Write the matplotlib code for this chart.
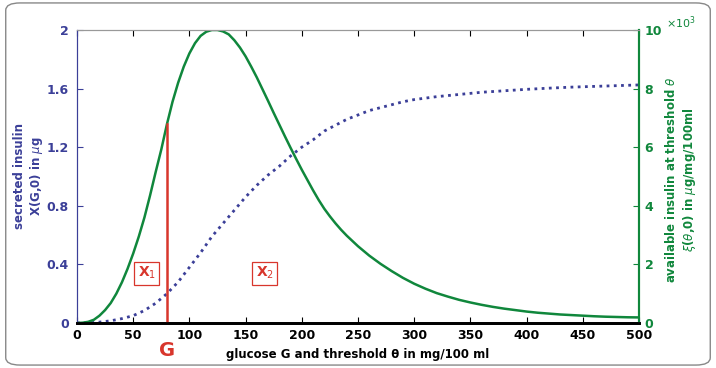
import matplotlib.pyplot as plt
from matplotlib.patches import FancyBboxPatch

# glucose grid and read-off values
g_blue = [0, 10, 20, 30, 40, 50, 60, 70, 80, 90, 100, 110, 120, 130, 140, 150, 160, 170, 180, 190,
          200, 210, 220, 230, 240, 250, 260, 270, 280, 290, 300, 320, 340, 360, 380, 400, 420, 440,
          460, 480, 500]
secreted = [0, 0.001, 0.006, 0.015, 0.03, 0.05, 0.085, 0.135, 0.2, 0.28, 0.38, 0.48, 0.59, 0.68,
            0.77, 0.86, 0.94, 1.01, 1.07, 1.14, 1.2, 1.25, 1.31, 1.35, 1.39, 1.42, 1.45, 1.47, 1.49,
            1.51, 1.525, 1.545, 1.56, 1.575, 1.585, 1.595, 1.603, 1.61, 1.615, 1.62, 1.625]

g_green = [0, 5, 10, 15, 20, 25, 30, 35, 40, 45, 50, 55, 60, 65, 70, 75, 80, 85, 90, 95,
           100, 105, 110, 115, 120, 125, 130, 135, 140, 145, 150, 155, 160, 165, 170, 175, 180, 185,
           190, 195, 200, 205, 210, 215, 220, 225, 230, 235, 240, 245, 250, 260, 270, 280, 290,
           300, 310, 320, 330, 340, 350, 360, 370, 380, 390, 400, 410, 420, 430, 440, 450, 460,
           470, 480, 490, 500]
available = [0, 0.01, 0.04, 0.11, 0.25, 0.44, 0.68, 1.0, 1.39, 1.85, 2.37, 2.95, 3.6, 4.35, 5.15,
             5.92, 6.78, 7.55, 8.2, 8.75, 9.2, 9.55, 9.8, 9.94, 10.0, 10.0, 9.95, 9.85, 9.65, 9.4,
             9.1, 8.75, 8.38, 7.98, 7.58, 7.17, 6.77, 6.37, 5.98, 5.6, 5.23, 4.88, 4.53, 4.2, 3.9,
             3.64, 3.4, 3.18, 2.98, 2.8, 2.62, 2.3, 2.02, 1.77, 1.54, 1.34, 1.17, 1.02, 0.9, 0.79,
             0.7, 0.62, 0.55, 0.49, 0.44, 0.39, 0.35, 0.32, 0.29, 0.27, 0.25, 0.23, 0.215, 0.205,
             0.195, 0.19]

G = 80
G_height = 6.78
x1_pos = (62, 0.34)
x2_pos = (167, 0.34)

blue = '#3b3f98'
green = '#10873c'
red = '#d8362c'

fig = plt.figure(figsize=(7.16, 3.68), dpi=100)
fig.patches.append(FancyBboxPatch((0.008, 0.008), 0.984, 0.984, boxstyle='round,pad=0,rounding_size=0.02',
                                  transform=fig.transFigure, fill=False, edgecolor='#888888', lw=1))
ax = fig.add_axes([0.1075, 0.1223, 0.785, 0.7962])
ax2 = ax.twinx()

ax.plot(g_blue, secreted, color=blue, lw=2, linestyle=(0, (1, 1.6)))
ax2.plot(g_green, available, color=green, lw=1.8)
ax2.plot([G, G], [0, G_height], color=red, lw=1.8)

ax.set_xlim(0, 500)
ax.set_ylim(0, 2)
ax2.set_ylim(0, 10)
ax.set_xticks(range(0, 501, 50))
ax.set_yticks([0, 0.4, 0.8, 1.2, 1.6, 2])
ax.set_yticklabels(['0', '0.4', '0.8', '1.2', '1.6', '2'])
ax2.set_yticks([0, 2, 4, 6, 8, 10])

for lab in ax.get_xticklabels():
    lab.set_fontweight('bold')
    lab.set_fontsize(9)
for lab in ax.get_yticklabels():
    lab.set_fontweight('bold')
    lab.set_fontsize(9)
    lab.set_color(blue)
for lab in ax2.get_yticklabels():
    lab.set_fontweight('bold')
    lab.set_fontsize(9)
    lab.set_color(green)

ax.tick_params(axis='x', direction='in', length=4, top=True, width=0.8, pad=4)
ax.tick_params(axis='y', direction='in', length=4, colors=blue, labelcolor=blue, pad=6)
ax2.tick_params(axis='y', direction='in', length=4, colors=green, labelcolor=green, pad=4)

for a in (ax, ax2):
    a.spines['top'].set_color('#999999')
    a.spines['top'].set_linewidth(0.8)
    a.spines['bottom'].set_color('black')
    a.spines['bottom'].set_linewidth(2)
    a.spines['left'].set_color(blue)
    a.spines['right'].set_color(green)
    a.spines['right'].set_linewidth(1.5)

ax.set_xlabel('glucose G and threshold \u03b8 in mg/100 ml', fontsize=8.5, fontweight='bold', labelpad=5)
ax.set_ylabel('secreted insulin\nX(G,0) in $\\mu$g', fontsize=8.5, fontweight='bold', color=blue)
ax.yaxis.set_label_coords(-0.085, 0.5)
ax.yaxis.label.set_va('center')
ax2.set_ylabel('available insulin at threshold $\\theta$\n$\\xi$($\\theta$,0) in $\\mu$g/mg/100ml',
               fontsize=8.5, fontweight='bold', color=green, rotation=90)
ax2.yaxis.set_label_coords(1.075, 0.49)
ax2.yaxis.label.set_va('center')

ax2.text(1.048, 1.025, '$\\times10^3$', transform=ax2.transAxes, color=green, fontsize=8, va='center', ha='left')

box = dict(boxstyle='square,pad=0.25', facecolor='white', edgecolor=red, lw=0.9)
ax.text(x1_pos[0], x1_pos[1], 'X$_1$', color=red, fontsize=10, fontweight='bold', ha='center', va='center', bbox=box)
ax.text(x2_pos[0], x2_pos[1], 'X$_2$', color=red, fontsize=10, fontweight='bold', ha='center', va='center', bbox=box)
ax.annotate('G', xy=(G, 0), xycoords=('data', 'axes fraction'), xytext=(0, -13), textcoords='offset points',
            color=red, fontsize=14, fontweight='bold', ha='center', va='top', annotation_clip=False)

fig.savefig('out.png', dpi=100)
